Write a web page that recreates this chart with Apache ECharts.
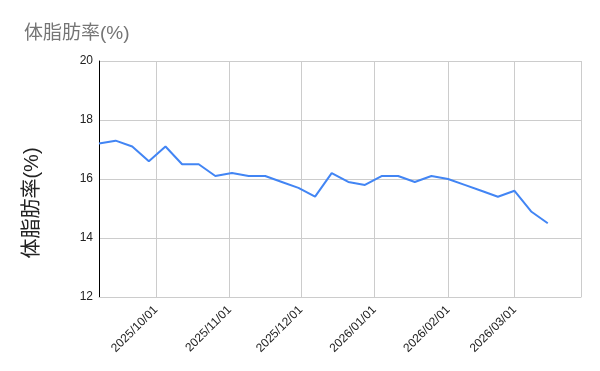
<!DOCTYPE html>
<html>
<head>
<meta charset="utf-8">
<script src="https://cdn.jsdelivr.net/npm/echarts@6/dist/echarts.min.js"></script>
<style>html,body{margin:0;padding:0;background:#fff}#c{width:600px;height:371px}</style>
</head>
<body>
<div id="c"></div>
<script>
const chartTitle = '体脂肪率(%)';
const yAxisName = '体脂肪率(%)';
const dates = ['2025-09-07','2025-09-14','2025-09-21','2025-09-28','2025-10-05','2025-10-12','2025-10-19','2025-10-26',
  '2025-11-02','2025-11-09','2025-11-16','2025-11-23','2025-11-30','2025-12-07','2025-12-14','2025-12-21','2025-12-28',
  '2026-01-04','2026-01-11','2026-01-18','2026-01-25','2026-02-01','2026-02-08','2026-02-15','2026-02-22',
  '2026-03-01','2026-03-08','2026-03-15'];
const bodyFat = [17.2,17.3,17.1,16.6,17.1,16.5,16.5,16.1,
  16.2,16.1,16.1,15.9,15.7,15.4,16.2,15.9,15.8,
  16.1,16.1,15.9,16.1,16.0,15.8,15.6,15.4,
  15.6,14.9,14.5];
const xMin = '2025-09-07';
const xMax = '2026-03-29';
const yTicks = [12,14,16,18,20];

const FONT = '"Liberation Sans", Arial, "Noto Sans CJK JP", sans-serif';
const chart = echarts.init(document.getElementById('c'), null, {renderer:'canvas'});
chart.setOption({
  animation: false,
  backgroundColor: '#fff',
  title: {
    text: chartTitle, left: 19, top: 19,
    textStyle: {fontSize: 19, fontWeight: 'normal', color: '#757575', fontFamily: FONT}
  },
  grid: {left: 99, right: 19, top: 61, bottom: 74},
  xAxis: {
    type: 'time',
    min: xMin, max: xMax,
    minInterval: 28*86400000, maxInterval: 31*86400000,
    axisLine: {show: true, lineStyle: {color: '#cccccc'}},
    axisTick: {show: false},
    splitLine: {show: true, lineStyle: {color: '#cccccc', width: 1}},
    axisLabel: {
      rotate: 45, fontSize: 12, color: '#222', fontFamily: FONT, margin: 11,
      showMinLabel: false, showMaxLabel: false,
      formatter: '{yyyy}/{MM}/{dd}'
    }
  },
  yAxis: {
    type: 'value', min: yTicks[0], max: yTicks[yTicks.length-1], interval: 2,
    name: yAxisName, nameLocation: 'middle', nameGap: 57,
    nameTextStyle: {fontSize: 20, color: '#222', fontFamily: FONT, padding: [0, 48, 0, 0]},
    axisLine: {show: true, lineStyle: {color: '#000', width: 1}},
    axisTick: {show: false},
    splitLine: {show: true, lineStyle: {color: '#cccccc', width: 1}},
    axisLabel: {fontSize: 12, color: '#222', fontFamily: FONT, margin: 6}
  },
  series: [{
    type: 'line',
    data: dates.map((d, i) => [d, bodyFat[i]]),
    showSymbol: false, symbol: 'none',
    lineStyle: {color: '#4285F4', width: 2},
    itemStyle: {color: '#4285F4'}
  }]
});
</script>
</body>
</html>
